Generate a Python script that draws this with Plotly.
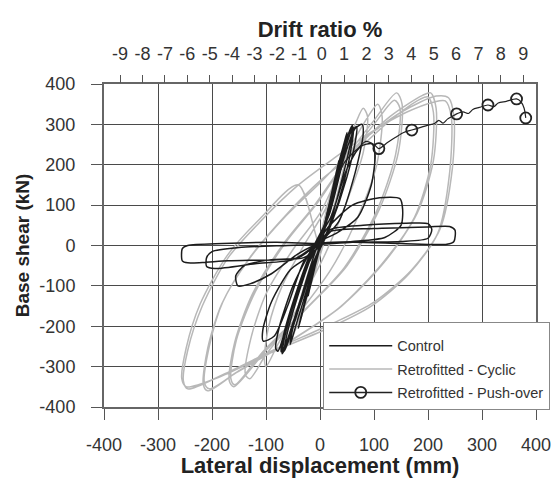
import plotly.graph_objects as go

# ---- data (mm, kN) ----
control_x = [0, 10, 15, 10, 0, -10, -15, -10, 0,
             12, 22, 18, 5, -8, -22, -18, -5,
             10, 30, 35, 30, 10, -10, -35, -40, -35, -15,
             5, 30, 45, 50, 47, 30, 5, -20, -45, -55, -52, -35, -10,
             15, 40, 55, 60, 58, 42, 15, -15, -45, -65, -72, -68, -45, -15,
             15, 40, 52, 62, 60, 45, 18, -12, -42, -60, -70, -66, -44, -14,
             18, 42, 57, 68, 66, 50, 20, -10, -40, -58, -66, -62, -40, -12,
             20, 45, 65, 78, 80, 65, 35, 0, -30, -60, -78, -82, -75, -50, -20,
             20, 50, 75, 96, 102, 95, 70, 30, 0, -30, -60, -85, -105, -106, -90, -55, -20,
             15, 60, 110, 148, 153, 150, 120, 60, 0, -40, -90, -130, -152, -156, -140, -90, -40,
             0, 20, 80, 160, 200, 207, 200, 150, 60, 0, -60, -150, -200, -210, -210, -195, -120, -50,
             -10, 20, 100, 200, 240, 250, 248, 235, 150, 60, 0, -80, -180, -245, -255, -255, -245, -170, -80, -30,
             0]
control_y = [0, 55, 85, 60, 5, -50, -80, -55, -5,
             65, 130, 105, 30, -45, -125, -100, -25,
             60, 175, 210, 180, 60, -50, -180, -205, -175, -70,
             30, 180, 255, 280, 255, 160, 20, -90, -200, -245, -215, -130, -20,
             80, 220, 285, 297, 265, 170, 40, -50, -170, -250, -263, -225, -120, -10,
             70, 210, 275, 292, 260, 160, 45, -45, -165, -240, -268, -230, -125, -15,
             80, 215, 280, 295, 262, 170, 50, -40, -160, -235, -262, -225, -120, -12,
             90, 220, 290, 300, 275, 180, 60, 5, -70, -190, -262, -255, -200, -100, -20,
             70, 190, 245, 252, 225, 150, 70, 30, 10, -40, -150, -225, -237, -210, -140, -60, -25,
             45, 100, 118, 116, 90, 50, 20, 10, 5, -20, -70, -95, -100, -75, -50, -35, -30,
             10, 40, 50, 55, 54, 40, 18, 10, 8, 3, 0, -5, -15, -30, -52, -57, -45, -35,
             0, 35, 42, 46, 47, 38, 10, 3, 5, 8, 5, 8, 5, 0, -8, -38, -43, -38, -35, -30,
             0]

cyclic_x = [0, 15, 30, 25, 0, -20, -35, -28, 0,
            30, 50, 45, 10, -30, -55, -50, -20, 10,
            40, 65, 80, 88, 80, 50, 10, -40, -80, -100, -103, -95, -70, -30, 10,
            40, 80, 107, 115, 105, 70, 20, -40, -100, -130, -138, -128, -100, -50, 0,
            50, 100, 142, 152, 145, 110, 50, -20, -100, -160, -168, -158, -125, -70, -10,
            50, 100, 138, 148, 140, 105, 45, -25, -105, -158, -165, -155, -120, -65, -5,
            60, 130, 190, 205, 215, 210, 180, 120, 40, -60, -150, -205, -214, -205, -180, -130, -60, 0,
            60, 130, 185, 200, 210, 205, 175, 115, 35, -65, -155, -208, -216, -208, -182, -132, -62, 0,
            70, 150, 215, 238, 248, 245, 222, 170, 100, 20, -80, -180, -245, -253, -245, -218, -170, -110, -40,
            30, 100, 160, 210, 232, 243, 240, 218, 165, 95, 15, -85, -185, -248, -256, -248, -222, -172, -112, -40, 0]
cyclic_y = [0, 90, 170, 130, -10, -110, -180, -140, 20,
            180, 250, 200, 20, -150, -240, -200, -60, 60,
            220, 300, 340, 320, 230, 110, -20, -150, -250, -300, -280, -200, -100, 0, 90,
            200, 300, 350, 320, 200, 70, -60, -170, -270, -330, -320, -230, -120, -10, 80,
            220, 310, 378, 350, 230, 90, -50, -150, -260, -350, -335, -240, -120, 0, 100,
            215, 300, 360, 340, 225, 85, -55, -155, -262, -345, -330, -235, -115, 5, 105,
            230, 320, 372, 378, 340, 210, 80, -40, -150, -240, -310, -355, -340, -250, -140, -30, 80, 160,
            225, 310, 362, 368, 330, 200, 70, -45, -155, -245, -315, -360, -345, -255, -145, -35, 75, 155,
            250, 330, 370, 366, 320, 190, 40, -60, -140, -195, -255, -320, -355, -335, -260, -150, -30, 60, 150,
            220, 285, 330, 355, 358, 320, 180, 30, -70, -150, -205, -262, -325, -350, -330, -255, -145, -25, 65, 150, 0]

pushover_x = [0, 15, 30, 45, 60, 70, 85, 100, 109, 125, 140, 155, 170, 185, 200, 212,
              220, 228, 236, 245, 253, 265, 275, 283, 295, 311, 322, 330, 345, 364, 372, 378, 381]
pushover_y = [0, 90, 160, 205, 228, 240, 258, 250, 240, 255, 268, 280, 286, 292, 298, 302,
              310, 303, 313, 320, 326, 331, 327, 337, 342, 348, 344, 353, 357, 363, 356, 340, 316]

circle_x = [109, 170, 253, 311, 364, 381]
circle_y = [240, 286, 326, 348, 363, 316]

x_ticks = [-400, -300, -200, -100, 0, 100, 200, 300, 400]
x_labels = ["-400", "-300", "-200", "-100", "0", "100", "200", "300", "400"]
y_ticks = [-400, -300, -200, -100, 0, 100, 200, 300, 400]
y_labels = ["-400", "-300", "-200", "-100", "0", "100", "200", "300", "400"]
drift_ticks = [-9, -8, -7, -6, -5, -4, -3, -2, -1, 0, 1, 2, 3, 4, 5, 6, 7, 8, 9]
drift_labels = ["-9", "-8", "-7", "-6", "-5", "-4", "-3", "-2", "-1", "0",
                "1", "2", "3", "4", "5", "6", "7", "8", "9"]

FONT = "Liberation Sans, Arial, sans-serif"
GRID = "#4a4a4a"

fig = go.Figure()
fig.add_trace(go.Scatter(x=cyclic_x, y=cyclic_y, mode="lines", name="Retrofitted - Cyclic",
                         legendgroup="b", legendrank=2,
                         line=dict(color="#b8b8b8", width=1.5, shape="spline", smoothing=0.8)))
fig.add_trace(go.Scatter(x=control_x, y=control_y, mode="lines", name="Control",
                         legendgroup="a", legendrank=1,
                         line=dict(color="#1c1c1c", width=1.5, shape="spline", smoothing=0.7)))
fig.add_trace(go.Scatter(x=pushover_x, y=pushover_y, mode="lines", showlegend=False,
                         line=dict(color="#222222", width=1.2, shape="spline", smoothing=0.8)))
fig.add_trace(go.Scatter(x=circle_x, y=circle_y, mode="markers", showlegend=False,
                         marker=dict(symbol="circle-open", size=11, color="#222222",
                                     line=dict(width=1.8, color="#222222"))))
fig.add_trace(go.Scatter(x=[None], y=[None], xaxis="x2", mode="lines+markers",
                         name="Retrofitted - Push-over", legendgroup="c", legendrank=3,
                         line=dict(color="#222222", width=1.5),
                         marker=dict(symbol="circle-open", size=11, color="#222222",
                                     line=dict(width=1.8, color="#222222"))))

fig.update_layout(
    width=553, height=478,
    margin=dict(l=104, r=17, t=84, b=71, autoexpand=False),
    paper_bgcolor="white", plot_bgcolor="white",
    font=dict(family=FONT, size=18, color="#333333"),
    xaxis=dict(range=[-400, 400], tickvals=x_ticks, ticktext=x_labels, showgrid=True,
               gridcolor=GRID, gridwidth=1.3, automargin=False,
               zeroline=False, ticks="outside", ticklen=11, tickcolor="#555555", tickwidth=1.3,
               showline=True, linecolor="#666666", linewidth=2, mirror=True,
               ticklabelstandoff=9, tickfont=dict(size=18),
               title=dict(text="<b>Lateral displacement (mm)</b>", font=dict(size=22, color="#222222"),
                          standoff=0)),
    xaxis2=dict(overlaying="x", side="top", range=[-9.72, 9.57], tickvals=drift_ticks,
                ticktext=drift_labels, automargin=False,
                showgrid=False, zeroline=False, ticks="outside", ticklen=8, tickcolor="#555555",
                tickwidth=1.2, showline=False, ticklabelstandoff=8, tickfont=dict(size=18),
                title=dict(text="<b>Drift ratio %</b>", font=dict(size=22, color="#222222"), standoff=0)),
    yaxis=dict(range=[-400, 400], tickvals=y_ticks, ticktext=y_labels, showgrid=True,
               gridcolor=GRID, gridwidth=1.3, automargin=False,
               zeroline=False, ticks="outside", ticklen=11, tickcolor="#555555", tickwidth=1.3,
               showline=True, linecolor="#666666", linewidth=2, mirror=True,
               ticklabelstandoff=12, tickfont=dict(size=18),
               title=dict(text="<b>Base shear (kN)</b>", font=dict(size=19, color="#222222"),
                          standoff=5)),
    legend=dict(x=0.507, y=0.263, xanchor="left", yanchor="top",
                bgcolor="white", bordercolor="#888888", borderwidth=1.2,
                font=dict(size=14.5, color="#333333"), itemwidth=63,
                traceorder="grouped", tracegroupgap=1.5, orientation="v",
                title=dict(text=" ", font=dict(size=5))),
    showlegend=True,
)

fig.write_html("out.html")
